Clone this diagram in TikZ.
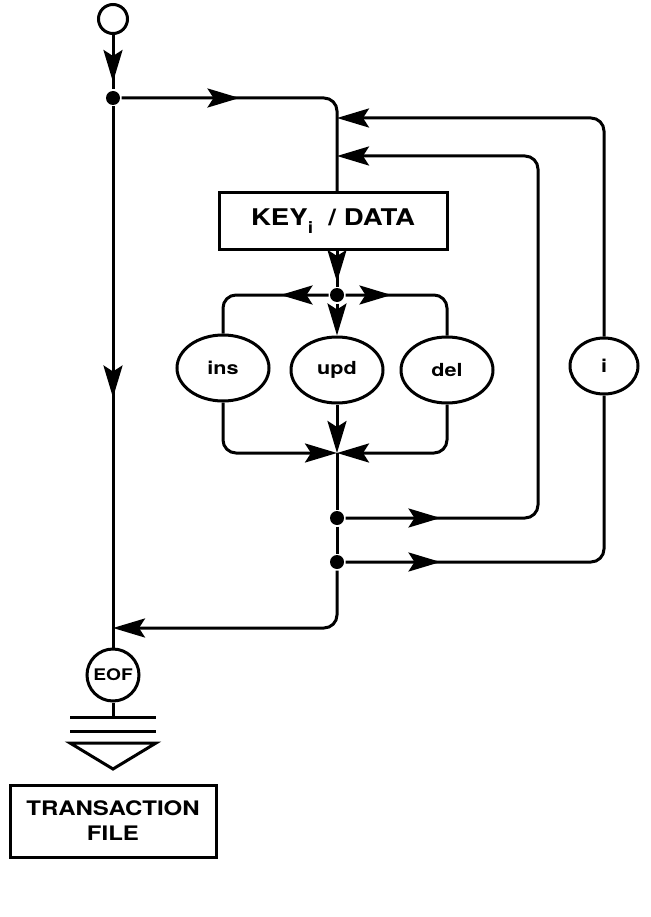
\documentclass[tikz,border=0pt]{standalone}
\usepackage{fontspec}
\newfontfamily\hv[FakeStretch=1.2]{TeX Gyre Heros}
\usetikzlibrary{arrows.meta,shapes.geometric,decorations.markings,calc}
\begin{document}
\begin{tikzpicture}[x=1pt,y=-1pt,line width=3pt,
  >={Stealth[length=32pt,width=19pt,inset=6pt]},
  flow/.style={rounded corners=13pt},
  tipat/.style={postaction={decorate,decoration={markings,mark=at position #1 with {\arrow{>}}}}},
  dotnode/.style={circle,fill,inner sep=0pt,minimum size=14pt},
  oval/.style={ellipse,draw,inner sep=0pt,minimum width=92pt,minimum height=66pt,
    font=\hv\bfseries\fontsize{18}{18}\selectfont},
  boxnode/.style={rectangle,draw,inner sep=0pt,align=center},
  txt/.style={font=\hv\bfseries\fontsize{#1}{#1}\selectfont}]
\useasboundingbox (0,0) rectangle (650,917);

% nodes
\node[draw,circle,minimum size=29pt,inner sep=0pt] (start) at (113,19) {};
\node[dotnode] (dA) at (113,98) {};
\node[boxnode,minimum width=228pt,minimum height=57pt,txt=23] (key) at (333,221)
  {KEY\raisebox{-0.35em}{\fontsize{16}{16}\selectfont i}\ \ / DATA};
\coordinate (k1) at (337,118);
\coordinate (k2) at (337,156);
\node[dotnode] (dB) at (337,295) {};
\node[oval] (ins) at (223,368) {ins};
\node[oval] (upd) at (337,370) {upd};
\node[oval] (del) at (447,370) {del};
\coordinate (J) at (337,453);
\node[dotnode] (dC) at (337,518) {};
\node[dotnode] (dD) at (337,562) {};
\coordinate (r2) at (538,300);
\node[oval,minimum width=68pt,minimum height=56pt] (iv) at (604,366) {i};
\coordinate (m) at (113,628);
\node[draw,circle,minimum size=52pt,inner sep=0pt,txt=16] (eof) at (113,675) {EOF};
\coordinate (bar1) at (113,717);
\coordinate (bar2) at (113,731);
\node[boxnode,minimum width=206pt,minimum height=72pt,txt=20] (tf) at (113,821)
  {TRANSACTION\\[5pt]FILE};

% connectors
\draw[tipat=47pt] (start) -- (dA);
\draw[flow,tipat=118pt] (dA) -| (key.north -| dB);
\draw[flow,->] (iv.north) |- (k1);
\draw[flow,tipat=95pt,->] (dC) -| (r2) |- (k2);
\draw[flow,tipat=95pt] (dD) -| (iv.south);
\draw[tipat=31pt] (key.south -| dB) -- (dB);
\draw[flow,tipat=48pt] (dB) -| (ins.north);
\draw[flow,tipat=46pt] (dB) -| (del.north);
\draw[->] (dB) -- (upd.north);
\draw[flow,->] (ins.south) |- (J);
\draw[flow,->] (del.south) |- (J);
\draw[->] (upd.south) -- (J);
\draw (J) -- (dC);
\draw (dC) -- (dD);
\draw[flow,->] (dD) |- (m);
\draw[tipat=291pt] (dA) -- (eof);
\draw (eof) -- (bar1);

% file symbol
\draw ([xshift=-43pt]bar1) -- ([xshift=43pt]bar1);
\draw ([xshift=-43pt]bar2) -- ([xshift=43pt]bar2);
\draw[line join=miter] ($(bar2)+(-43,12)$) -- ($(bar2)+(43,12)$) -- ($(bar2)+(0,38)$) -- cycle;
\end{tikzpicture}
\end{document}
